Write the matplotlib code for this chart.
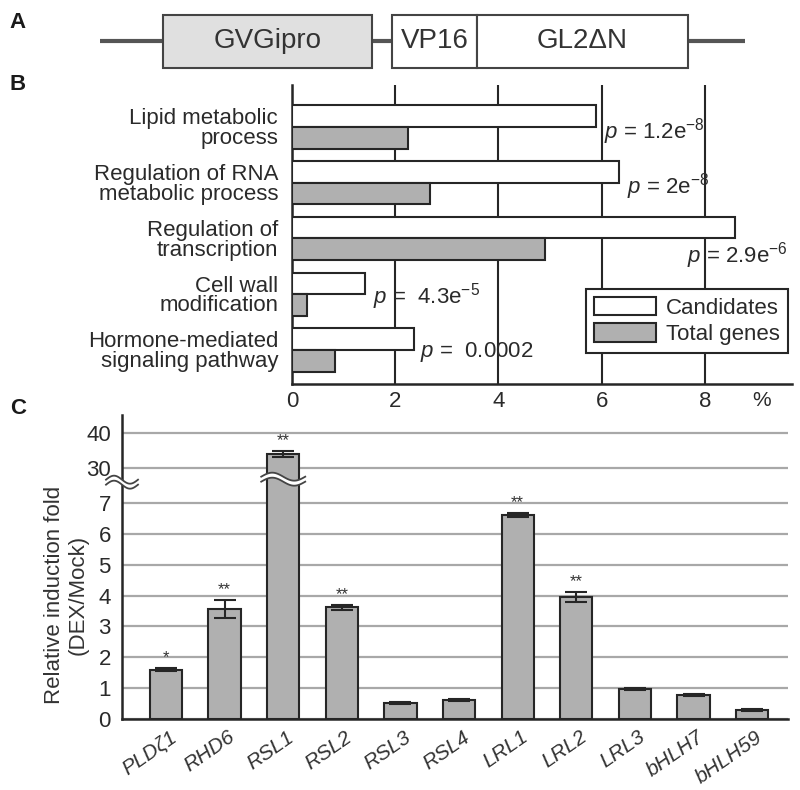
import numpy as np
import matplotlib
matplotlib.use("Agg")
import matplotlib.pyplot as plt
from matplotlib.patches import Rectangle, Polygon
from matplotlib.lines import Line2D
from matplotlib.transforms import ScaledTranslation

plt.rcParams['font.family'] = ['Liberation Sans', 'DejaVu Sans']
plt.rcParams['mathtext.fontset'] = 'custom'
plt.rcParams['mathtext.rm'] = 'Liberation Sans'
plt.rcParams['mathtext.it'] = 'Liberation Sans:italic'
plt.rcParams['text.color'] = '#2a2a2a'
plt.rcParams['xtick.color'] = '#2a2a2a'
plt.rcParams['ytick.color'] = '#2a2a2a'

# ---------------- data ----------------
# Panel A: construct schematic (name, start, end in schematic units)
construct_names = ['GVGipro', 'VP16', 'GL2ΔN']
construct_start = [163, 392, 477]
construct_end = [372, 477, 688]
construct_fill = ['#e0e0e0', 'white', 'white']
backbone = [100, 745]

# Panel B: GO enrichment (%)
go_terms = ['Lipid metabolic\nprocess', 'Regulation of RNA\nmetabolic process',
            'Regulation of\ntranscription', 'Cell wall\nmodification',
            'Hormone-mediated\nsignaling pathway']
candidates_pct = [5.9, 6.33, 8.58, 1.41, 2.37]
total_pct = [2.25, 2.67, 4.9, 0.3, 0.84]
p_labels = [r'$p$ = 1.2e$^{-8}$', r'$p$ = 2e$^{-8}$', r'$p$ = 2.9e$^{-6}$',
            r'$p$ =  4.3e$^{-5}$', r'$p$ =  0.0002']
p_dx = [0.15, 0.16, -0.93, 0.16, 0.11]
p_dy = [0.09, 0.06, 0.30, 0.05, 0.04]
b_xticks = [0, 2, 4, 6, 8]

# Panel C: relative induction fold
genes = ['PLDζ1', 'RHD6', 'RSL1', 'RSL2', 'RSL3', 'RSL4', 'LRL1', 'LRL2', 'LRL3', 'bHLH7', 'bHLH59']
fold = [1.59, 3.56, 34.0, 3.62, 0.52, 0.61, 6.6, 3.95, 0.97, 0.78, 0.29]
fold_err = [0.05, 0.30, 0.8, 0.08, 0.04, 0.03, 0.07, 0.16, 0.04, 0.04, 0.03]
signif = ['*', '**', '**', '**', '', '', '**', '**', '', '', '']
c_yticks = [0, 1, 2, 3, 4, 5, 6, 7, 30, 40]

W, H = 800, 790
fig = plt.figure(figsize=(W / 100, H / 100), dpi=100)


def px_axes(l, t, r, b):
    return fig.add_axes([l / W, 1 - b / H, (r - l) / W, (b - t) / H])


EDGE = '#262626'
GRAY = '#b0b0b0'

# ---------------- Panel A ----------------
axA = px_axes(0, 0, 800, 80)
axA.set_xlim(0, 800)
axA.set_ylim(80, 0)
axA.axis('off')
axA.plot(backbone, [41, 41], color='#555555', lw=3, solid_capstyle='butt', zorder=1)
for name, s, e, fc in zip(construct_names, construct_start, construct_end, construct_fill):
    axA.add_patch(Rectangle((s, 15), e - s, 53, facecolor=fc, edgecolor='#444444', lw=1.5, zorder=2))
    axA.text((s + e) / 2, 41, name, ha='center', va='center', fontsize=20, color='#333333', zorder=3)

# ---------------- Panel B ----------------
axB = px_axes(292, 85, 792, 384)
y = np.arange(len(go_terms))
h = 0.387
bc = axB.barh(y - h / 2, candidates_pct, height=h, color='white', edgecolor=EDGE, lw=1.5,
              label='Candidates', zorder=3)
bt = axB.barh(y + h / 2, total_pct, height=h, color=GRAY, edgecolor=EDGE, lw=1.5,
              label='Total genes', zorder=3)
axB.set_xlim(0, 9.69)
axB.set_ylim(4.61, -0.753)
axB.set_xticks(b_xticks)
axB.xaxis.grid(True, color=EDGE, lw=1.5)
axB.set_axisbelow(True)
for s in ['top', 'right']:
    axB.spines[s].set_visible(False)
for s in ['left', 'bottom']:
    axB.spines[s].set_linewidth(1.8)
    axB.spines[s].set_color(EDGE)
axB.set_yticks(y, go_terms)
axB.tick_params(axis='both', length=0, labelsize=16)
axB.tick_params(axis='y', pad=10)
axB.tick_params(axis='x', pad=5)
for lbl in axB.get_yticklabels():
    lbl.set_linespacing(0.92)
axB.annotate('%', xy=(0.94, 0), xycoords='axes fraction', xytext=(0, -5),
             textcoords='offset points', ha='center', va='top', fontsize=15)
for i, (c, lab, dx, dy) in enumerate(zip(candidates_pct, p_labels, p_dx, p_dy)):
    axB.text(c + dx, i + dy, lab, ha='left', va='center', fontsize=16, zorder=4)
leg = axB.legend(handles=[bc, bt], loc='lower right', bbox_to_anchor=(788 / W, 1 - 353 / H),
                 bbox_transform=fig.transFigure, fontsize=16, frameon=True, fancybox=False,
                 edgecolor=EDGE, framealpha=1, handlelength=2.8, handleheight=0.9,
                 borderpad=0.35, labelspacing=0.2, handletextpad=0.45, borderaxespad=0)
leg.get_frame().set_linewidth(1.5)

# ---------------- Panel C ----------------
B1, B2 = 7.64, 25.7
R = 3.5 / 30.9


def fwd(v):
    v = np.asarray(v, dtype=float)
    return np.where(v <= B1, v, np.where(v >= B2, B1 + (v - B2) * R, B1))


def inv(u):
    u = np.asarray(u, dtype=float)
    return np.where(u <= B1, u, B2 + (u - B1) / R)


axC = px_axes(122, 415, 788, 719)
axC.set_yscale('function', functions=(fwd, inv))
xc = np.arange(len(genes))
axC.bar(xc, fold, width=0.55, color=GRAY, edgecolor=EDGE, lw=1.5, zorder=3)
axC.errorbar(xc, fold, yerr=fold_err, fmt='none', ecolor=EDGE, elinewidth=1.5,
             capsize=8, capthick=1.5, zorder=4)
for xi, v, e, s in zip(xc, fold, fold_err, signif):
    if s:
        axC.annotate(s, xy=(xi, v + e), xytext=(0, 2), textcoords='offset points',
                     ha='center', va='bottom', fontsize=12, color='#333333')
axC.set_xlim(-0.75, 10.61)
axC.set_ylim(0, 45.2)
axC.set_yticks(c_yticks)
axC.set_yticklabels([str(t) for t in c_yticks])
axC.yaxis.grid(True, color='#a8a8a8', lw=1.6)
axC.set_axisbelow(True)
for s in ['top', 'right']:
    axC.spines[s].set_visible(False)
for s in ['left', 'bottom']:
    axC.spines[s].set_linewidth(1.8)
    axC.spines[s].set_color(EDGE)
axC.set_xticks(xc, genes)
axC.tick_params(axis='both', length=0)
axC.tick_params(axis='y', labelsize=16, pad=8)
axC.tick_params(axis='x', labelsize=15, pad=6)
for lbl in axC.get_xticklabels():
    lbl.set_rotation(35)
    lbl.set_ha('right')
    lbl.set_va('top')
    lbl.set_rotation_mode('anchor')
    lbl.set_fontstyle('italic')
    lbl.set_color('#333333')
    lbl.set_transform(lbl.get_transform() + ScaledTranslation(0.03, 0, fig.dpi_scale_trans))

fig.text(66 / W, 1 - 595 / H, 'Relative induction fold\n(DEX/Mock)', rotation=90,
         ha='center', va='center', fontsize=16, color='#333333', linespacing=1.15)

# axis break markers
fig.canvas.draw()
inv_fig = fig.transFigure.inverted()


def draw_break(xd, yd, half_w, amp=4.0, gap=5.0):
    t = np.linspace(0, 1, 60)
    xs = xd - half_w + 2 * half_w * t
    wave = amp * np.sin(2 * np.pi * t)
    top = np.column_stack([xs, yd + gap / 2 + wave])
    bot = np.column_stack([xs, yd - gap / 2 + wave])
    poly = np.vstack([top, bot[::-1]])
    fig.add_artist(Polygon(inv_fig.transform(poly), closed=True, facecolor='white',
                           edgecolor='none', transform=fig.transFigure, zorder=5))
    for line in (top, bot):
        pts = inv_fig.transform(line)
        fig.add_artist(Line2D(pts[:, 0], pts[:, 1], color='#444444', lw=1.3,
                              transform=fig.transFigure, zorder=6))


yb = axC.transData.transform((0, B1))[1] + 1
x_sp = axC.transAxes.transform((0, 0))[0]
draw_break(x_sp, yb, 16)
for xi, v in zip(xc, fold):
    if v > B2:
        xd = axC.transData.transform((xi, B1))[0]
        draw_break(xd, yb + 3, 22)

# panel letters
for letter, ypx in zip(['A', 'B', 'C'], [23, 84, 408]):
    fig.text(18 / W, 1 - ypx / H, letter, fontsize=16, fontweight='bold', ha='center',
             va='center', color='#1a1a1a')

fig.savefig('out.png', dpi=100)
